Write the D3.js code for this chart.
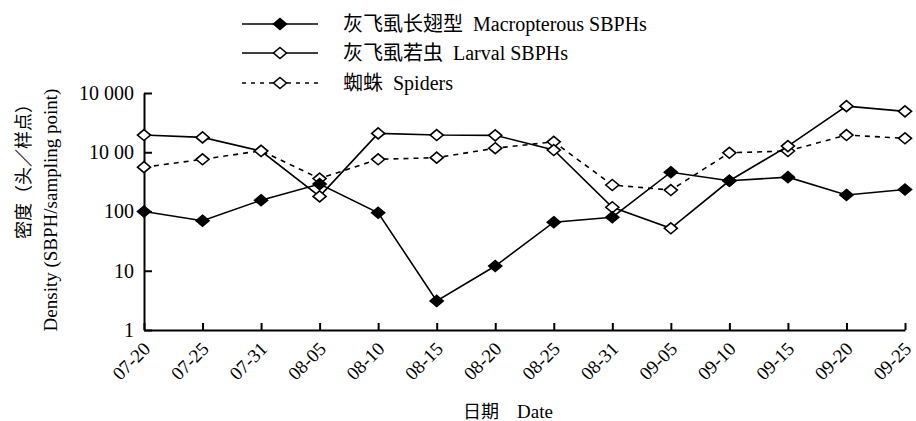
<!DOCTYPE html>
<html>
<head>
<meta charset="utf-8">
<script src="https://cdn.jsdelivr.net/npm/d3@7"></script>
<style>
  body { margin: 0; background: #fff; }
  svg { display: block; }
  text { font-family: "Liberation Serif", "Noto Sans CJK SC", serif; fill: #000; }
</style>
</head>
<body>
<svg width="916" height="421"></svg>
<script>
const width = 916;
const height = 421;

const svg = d3.select('svg');

// dates sampled
const dates = ['07-20', '07-25', '07-31', '08-05', '08-10', '08-15', '08-20',
               '08-25', '08-31', '09-05', '09-10', '09-15', '09-20', '09-25'];

// densities (per sampling point)
const macropterous = [100, 70, 155, 290, 95, 3.1, 12, 66, 80, 460, 330, 380, 190, 235];
const larval = [1950, 1780, 1050, 180, 2080, 1950, 1930, 1090, 118, 52, 330, 1270, 6000, 4900];
const spiders = [560, 760, 1060, 360, 760, 810, 1170, 1500, 280, 230, 980, 1050, 1950, 1720];

const yTicks = [1, 10, 100, 1000, 10000];
const yTickLabels = ['1', '10', '100', '10 00', '10 000'];

const seriesCn = ['灰飞虱长翅型', '灰飞虱若虫', '蜘蛛'];
const seriesEn = ['Macropterous SBPHs', 'Larval SBPHs', 'Spiders'];

const margin = { top: 93, bottom: 91, left: 144, right: 11 };
const innerWidth = width - margin.left - margin.right;
const innerHeight = height - margin.top - margin.bottom;

const xScale = d3.scalePoint()
    .domain(dates)
    .range([0, innerWidth]);

const yScale = d3.scaleLog()
    .domain([1, 10000])
    .range([innerHeight, 0]);

const g = svg.append('g')
    .attr('transform', 'translate(' + margin.left + ', ' + margin.top + ')');

// axes with inward ticks
const xAxis = d3.axisBottom(xScale)
    .tickSize(-7)
    .tickSizeOuter(0)
    .tickPadding(4);

const yAxis = d3.axisLeft(yScale)
    .tickValues(yTicks)
    .tickFormat((d, i) => yTickLabels[i])
    .tickSize(-8)
    .tickSizeOuter(0)
    .tickPadding(10);

const xAxisG = g.append('g')
    .attr('transform', 'translate(0, ' + innerHeight + ')')
    .call(xAxis);
xAxisG.selectAll('.domain').attr('stroke-width', 2);
xAxisG.selectAll('.tick line').attr('stroke-width', 2);
xAxisG.selectAll('.tick text')
    .attr('font-size', 19)
    .attr('text-anchor', 'end')
    .attr('dy', null)
    .attr('y', 0)
    .attr('transform', 'translate(7, 20) rotate(-45)');

const yAxisG = g.append('g').call(yAxis);
yAxisG.selectAll('.domain').attr('stroke-width', 2);
yAxisG.selectAll('.tick line').attr('stroke-width', 2);
yAxisG.selectAll('.tick text').attr('font-size', 20);

// axis titles
svg.append('text')
    .text('密度（头／样点）')
    .attr('font-size', 18)
    .attr('text-anchor', 'middle')
    .attr('transform', 'translate(30, 167) rotate(-90)');

svg.append('text')
    .text('Density (SBPH/sampling point)')
    .attr('font-size', 19)
    .attr('text-anchor', 'middle')
    .attr('transform', 'translate(57, 210) rotate(-90)');

svg.append('text')
    .text('日期')
    .attr('font-size', 18)
    .attr('x', 463)
    .attr('y', 418);

svg.append('text')
    .text('Date')
    .attr('font-size', 19)
    .attr('x', 517)
    .attr('y', 418);

// diamond marker
const diamond = 'M0,-5.5L6.5,0L0,5.5L-6.5,0Z';

const series = [
    { values: macropterous, dash: null, fill: '#000' },
    { values: larval, dash: null, fill: '#fff' },
    { values: spiders, dash: '5,5', fill: '#fff' }
];

const line = d3.line()
    .x((d, i) => xScale(dates[i]))
    .y(d => yScale(d));

// draw spiders first, then larval, then macropterous on top
series.slice().reverse().forEach(s => {
    g.append('path')
        .datum(s.values)
        .attr('d', line)
        .attr('fill', 'none')
        .attr('stroke', '#000')
        .attr('stroke-width', 1.6)
        .attr('stroke-dasharray', s.dash);

    g.selectAll(null)
        .data(s.values)
        .enter()
        .append('path')
        .attr('d', diamond)
        .attr('transform', (d, i) => 'translate(' + xScale(dates[i]) + ',' + yScale(d) + ')')
        .attr('fill', s.fill)
        .attr('stroke', '#000')
        .attr('stroke-width', 1.6);
});

// legend
const legendY = [24, 53, 83];
const legend = svg.append('g');
series.forEach((s, i) => {
    const row = legend.append('g').attr('transform', 'translate(0, ' + legendY[i] + ')');
    row.append('line')
        .attr('x1', 242).attr('x2', 318)
        .attr('stroke', '#000')
        .attr('stroke-width', 1.6)
        .attr('stroke-dasharray', s.dash ? '4,5' : null);
    row.append('path')
        .attr('d', diamond)
        .attr('transform', 'translate(280, 0)')
        .attr('fill', s.fill)
        .attr('stroke', '#000')
        .attr('stroke-width', 1.6);
    const t = row.append('text')
        .attr('font-size', 20)
        .attr('x', 343)
        .attr('y', 7);
    t.append('tspan').text(seriesCn[i]);
    t.append('tspan').attr('dx', 10).text(seriesEn[i]);
});
</script>
</body>
</html>
